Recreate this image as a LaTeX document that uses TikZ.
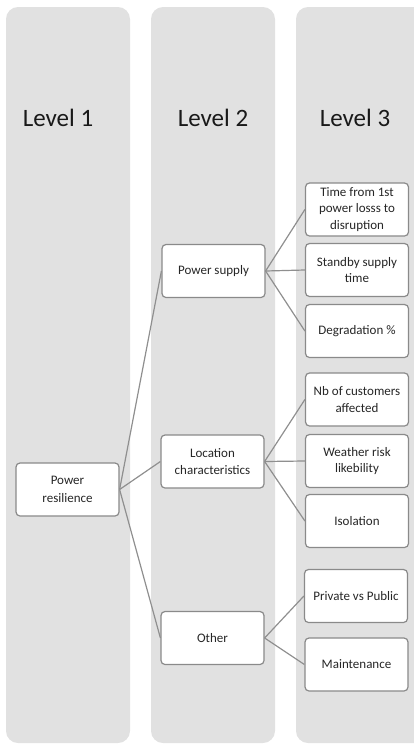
\documentclass[tikz,border=0pt]{standalone}
\usepackage{fontspec}
\setmainfont{Carlito}
\definecolor{colfill}{HTML}{E1E1E1}
\definecolor{boxline}{HTML}{8A8A8A}
\definecolor{linkline}{HTML}{8F8F8F}
\begin{document}
\begin{tikzpicture}[x=1pt,y=-1pt,
  column/.style={fill=colfill,draw=none,rounded corners=12pt},
  levellabel/.style={font=\fontsize{25}{30}\selectfont,text=black!90},
  item/.style={draw=boxline,line width=1.2pt,fill=white,rounded corners=4pt,
    minimum width=103pt,minimum height=53pt,align=center,inner sep=2pt,
    font=\fontsize{13}{16.5}\selectfont,text=black!85},
  link/.style={draw=linkline,line width=1.2pt}]
\useasboundingbox (0,0) rectangle (414,745);
\clip (0,0) rectangle (414,745);
% columns
\fill[column] (6,7) rectangle (130,743);
\fill[column] (151,7) rectangle (275,743);
\fill[column] (296,7) rectangle (440,743);
\node[levellabel] (l1) at (58,118) {Level 1};
\node[levellabel] (l2) at (213,118) {Level 2};
\node[levellabel] (l3) at (355,118) {Level 3};
% level 1
\node[item] (pr) at (67.5,489.5) {Power\\[2pt]resilience};
% level 2
\node[item] (ps) at (213.5,271) {Power supply};
\node[item] (lc) at (212.5,461.5) {Location\\characteristics};
\node[item] (ot) at (212.5,638) {Other};
% level 3
\node[item] (t1) at (357,209.5) {Time from 1st\\power losss to\\disruption};
\node[item] (t2) at (357,270) {Standby supply\\time};
\node[item] (t3) at (357,331) {Degradation \%};
\node[item] (t4) at (357,399.5) {Nb of customers\\affected};
\node[item] (t5) at (357,461) {Weather risk\\likebility};
\node[item] (t6) at (357,521) {Isolation};
\node[item] (t7) at (356,596) {Private vs Public};
\node[item] (t8) at (356.5,664.5) {Maintenance};
% links
\foreach \c in {ps,lc,ot} \draw[link] (pr.east) -- (\c.west);
\foreach \c in {t1,t2,t3} \draw[link] (ps.east) -- (\c.west);
\foreach \c in {t4,t5,t6} \draw[link] (lc.east) -- (\c.west);
\foreach \c in {t7,t8} \draw[link] (ot.east) -- (\c.west);
\end{tikzpicture}
\end{document}
